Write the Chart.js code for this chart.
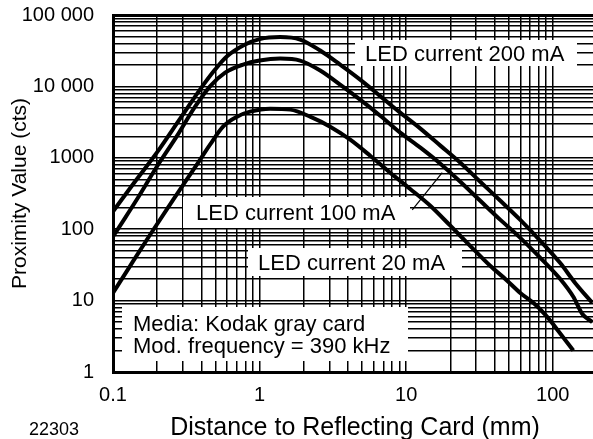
<!DOCTYPE html>
<html>
<head>
<meta charset="utf-8">
<script src="https://cdn.jsdelivr.net/npm/chart.js@4.4.1/dist/chart.umd.min.js"></script>
<style>
  html, body { margin: 0; padding: 0; background: #fff; }
  #wrap { width: 593px; height: 439px; position: relative; }
</style>
</head>
<body>
<div id="wrap"><canvas id="chart"></canvas></div>
<script>
const FONT = "'Liberation Sans', Arial, Helvetica, sans-serif";

// ── Data (distance in mm, proximity value in counts) ──
const dist200 = [0.1, 0.141, 0.199, 0.287, 0.392, 0.497, 0.597, 0.796, 1.0, 1.38, 1.89, 2.59, 3.54, 4.85, 6.65, 9.1, 12.5, 17.1, 23.4, 32.0, 43.9, 60.0, 82.2, 112, 142, 186];
const prox200 = [177, 462, 1180, 3540, 9020, 17200, 26200, 38600, 46000, 49100, 45300, 31800, 20200, 12450, 7310, 4290, 2560, 1480, 853, 462, 250, 135, 68.8, 33.8, 17.7, 9.3];

const dist100 = [0.1, 0.121, 0.145, 0.197, 0.272, 0.363, 0.459, 0.582, 0.771, 1.0, 1.38, 1.89, 2.59, 3.54, 4.85, 6.65, 9.1, 12.5, 17.1, 23.4, 32.0, 43.9, 60.0, 82.2, 112, 138, 159, 186];
const prox100 = [79, 144, 258, 726, 1995, 5210, 10030, 15600, 20200, 23000, 24500, 23000, 16700, 10600, 6530, 3890, 2250, 1385, 826, 462, 250, 135, 75.7, 39.7, 20.2, 11.3, 6.5, 5.0];

const dist20 = [0.1, 0.131, 0.179, 0.257, 0.318, 0.373, 0.459, 0.563, 0.702, 0.861, 1.18, 1.62, 2.21, 3.03, 4.15, 5.68, 7.78, 10.6, 14.6, 20.0, 27.3, 37.4, 48.2, 60.0, 73.6, 90.3, 112, 138];
const prox20 = [12.8, 30.7, 83.5, 258, 493, 800, 1527, 2730, 3770, 4430, 4880, 4730, 3770, 2730, 1795, 1070, 618, 369, 213, 112, 58.5, 30.7, 19.5, 12.8, 9.3, 6.1, 3.5, 2.0];

// leader line from the "100 mA" label to its curve
const leaderX = [11.0, 17.6];
const leaderY = [187, 618];

const xTickLabels = ["0.1", "1", "10", "100"];
const yTickLabels = ["1", "10", "100", "1000", "10 000", "100 000"];
const X_MIN = 0.1, X_MAX = 188;
const Y_MIN = 1, Y_MAX = 100000;

// ── Label boxes (canvas px) ──
const notes = [
  { box: [355, 40, 577, 66],  x: 365, lines: ["LED current 200 mA"], base: [60.5] },
  { box: [183, 197, 410, 228], x: 196, lines: ["LED current 100 mA"], base: [219.5] },
  { box: [248, 248, 462, 276], x: 258, lines: ["LED current 20 mA"],  base: [269.5] },
  { box: [122, 307, 408, 361], x: 133, lines: ["Media: Kodak gray card", "Mod. frequency = 390 kHz"], base: [331, 353] },
];

const pts = (xs, ys) => xs.map((x, i) => ({ x, y: ys[i] }));

function logTicks(min, max) {
  const out = [];
  for (let e = Math.floor(Math.log10(min)); e <= Math.ceil(Math.log10(max)); e++) {
    for (let k = 1; k <= 9; k++) {
      const v = Number((k * Math.pow(10, e)).toPrecision(6));
      if (v >= min - 1e-9 && v <= max + 1e-9) out.push({ value: v });
    }
  }
  return out;
}

function decadeLabel(v, labels, min) {
  const l = Math.log10(v);
  const e = Math.round(l);
  if (Math.abs(l - e) > 1e-6) return "";
  return labels[e - Math.round(Math.log10(min))] ?? "";
}

const annotate = {
  id: "annotate",
  beforeDatasetsDraw(chart) {
    const ctx = chart.ctx;
    ctx.save();
    ctx.fillStyle = "#fff";
    notes.forEach(n => ctx.fillRect(n.box[0], n.box[1], n.box[2] - n.box[0], n.box[3] - n.box[1]));
    ctx.fillStyle = "#000";
    ctx.font = `22px ${FONT}`;
    ctx.textAlign = "left";
    ctx.textBaseline = "alphabetic";
    notes.forEach(n => n.lines.forEach((t, i) => ctx.fillText(t, n.x, n.base[i])));
    ctx.restore();
  },
  afterDraw(chart) {
    const ctx = chart.ctx;
    ctx.save();
    ctx.fillStyle = "#000";
    ctx.textBaseline = "alphabetic";
    ctx.textAlign = "center";
    ctx.font = `25px ${FONT}`;
    ctx.fillText("Distance to Reflecting Card (mm)", 355, 435);
    ctx.font = `18px ${FONT}`;
    ctx.fillText("22303", 54, 435);
    ctx.restore();
  },
};

const lineSet = (data) => ({
  data, borderColor: "#000", borderWidth: 4, pointRadius: 0,
  cubicInterpolationMode: "monotone", fill: false,
});

// keep the plot box fixed: no extra room for overhanging tick labels
const noPad = s => { s.paddingTop = 0; s.paddingBottom = 0; s.paddingLeft = 0; s.paddingRight = 0; };

new Chart(document.getElementById("chart"), {
  type: "line",
  data: {
    datasets: [
      lineSet(pts(dist200, prox200)),
      lineSet(pts(dist100, prox100)),
      lineSet(pts(dist20, prox20)),
      { data: pts(leaderX, leaderY), borderColor: "#000", borderWidth: 1.2, pointRadius: 0, tension: 0 },
    ],
  },
  options: {
    responsive: true, maintainAspectRatio: false, animation: false,
    layout: { padding: { top: 15, right: 0, left: 0, bottom: 0 } },
    plugins: { legend: { display: false }, tooltip: { enabled: false } },
    scales: {
      x: {
        type: "logarithmic", min: X_MIN, max: X_MAX,
        afterBuildTicks: s => { s.ticks = logTicks(X_MIN, X_MAX); },
        afterFit: s => { s.height = 67; noPad(s); },
        grid: { color: "#000", lineWidth: 1.5, drawTicks: false },
        border: { display: true, color: "#000", width: 3 },
        ticks: {
          autoSkip: false, maxRotation: 0, padding: 11, color: "#000",
          font: { family: FONT, size: 20 },
          callback: v => decadeLabel(v, xTickLabels, X_MIN),
        },
      },
      y: {
        type: "logarithmic", min: Y_MIN, max: Y_MAX,
        afterBuildTicks: s => { s.ticks = logTicks(Y_MIN, Y_MAX); },
        afterFit: s => { s.width = 113; noPad(s); },
        grid: {
          color: "#000", drawTicks: false,
          lineWidth: c => (c.tick && c.tick.value === Y_MAX ? 3 : 1.5),
        },
        border: { display: true, color: "#000", width: 3 },
        ticks: {
          autoSkip: false, padding: 19, color: "#000",
          font: { family: FONT, size: 20 },
          callback: v => decadeLabel(v, yTickLabels, Y_MIN),
        },
        title: {
          display: true, text: "Proximity Value (cts)", color: "#000",
          font: { family: FONT, size: 21 }, padding: { top: 8, bottom: 0 },
        },
      },
    },
  },
  plugins: [annotate],
});
</script>
</body>
</html>
